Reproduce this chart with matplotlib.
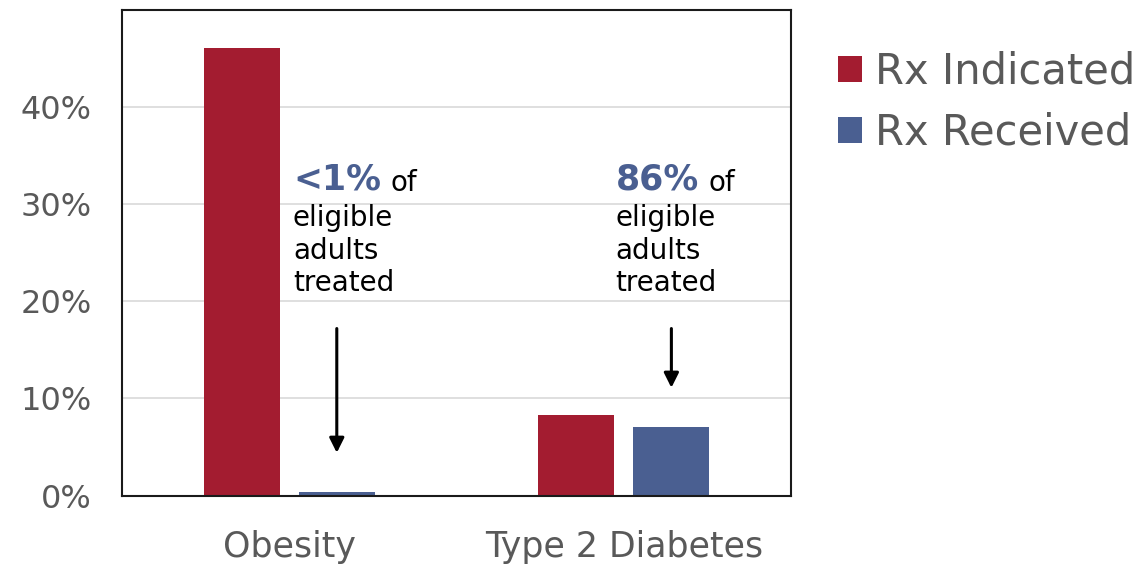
import matplotlib.pyplot as plt
import numpy as np
from matplotlib.patches import Patch

# prescription rates among eligible adults (%)
conditions = ["Obesity", "Type 2 Diabetes"]
rx_indicated = [46.1, 8.3]
rx_received = [0.4, 7.1]
callouts = ["<1%", "86%"]
series_names = ["Rx Indicated", "Rx Received"]
y_ticks = [0, 10, 20, 30, 40]

RED = "#A31C30"
BLUE = "#4A5F91"
GREY = "#595959"

plt.rcParams["font.family"] = "DejaVu Sans"

fig = plt.figure(figsize=(11.4, 5.65), dpi=100)
ax = fig.add_axes([0.107, 0.123, 0.587, 0.859])

x = np.arange(len(conditions))
width = 0.227
offset = 0.142

ax.bar(x - offset, rx_indicated, width, color=RED, zorder=3)
ax.bar(x + offset, rx_received, width, color=BLUE, zorder=3)

ax.set_xlim(-0.5, 1.5)
ax.set_ylim(0, 50)

ax.set_yticks(y_ticks)
ax.set_yticklabels([f"{t}%" for t in y_ticks])
ax.set_xticks(x)
ax.set_xticklabels(conditions)
ax.tick_params(axis="y", length=0, pad=22, labelsize=23, labelcolor=GREY)
ax.tick_params(axis="x", length=0, pad=25, labelsize=25, labelcolor=GREY)

# light horizontal gridlines behind the bars
for t in y_ticks[1:]:
    ax.axhline(t, color="#D9D9D9", lw=1.2, zorder=1)

for side in ["top", "bottom", "left", "right"]:
    ax.spines[side].set_color("#1a1a1a")
    ax.spines[side].set_linewidth(1.5)
ax.spines["bottom"].set_zorder(4)

# callout text and arrows for each received bar
text_x = [0.011, 0.975]
for i, label in enumerate(callouts):
    t = ax.text(text_x[i], 31.5, label, fontsize=25, fontweight="bold",
                color=BLUE, ha="left", va="baseline")
    ax.annotate("of", xy=(1, 0), xycoords=t, xytext=(7, 0),
                textcoords="offset points", fontsize=20, color="black",
                ha="left", va="bottom")
    ax.text(text_x[i], 30.0, "eligible\nadults\ntreated", fontsize=20,
            color="black", ha="left", va="top", linespacing=1.2)
    ax.annotate("", xy=(x[i] + offset, rx_received[i] + 4),
                xytext=(x[i] + offset, 17.2),
                arrowprops=dict(arrowstyle="-|>", color="black", lw=2.2,
                                mutation_scale=22, shrinkA=0, shrinkB=0))

handles = [Patch(facecolor=RED), Patch(facecolor=BLUE)]
fig.legend(handles, series_names, loc="upper left",
           bbox_to_anchor=(0.735, 0.911), frameon=False, fontsize=30,
           labelcolor=GREY, handlelength=0.58, handleheight=0.58,
           handletextpad=0.3, labelspacing=0.47, borderpad=0, borderaxespad=0)

fig.savefig("out.png", dpi=100)
